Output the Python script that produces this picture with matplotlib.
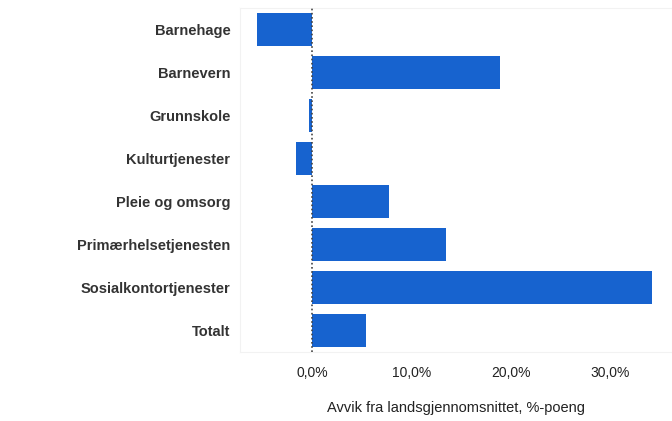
import matplotlib
matplotlib.use('Agg')
import matplotlib.pyplot as plt
from matplotlib.ticker import FuncFormatter

# data (deviation from national average, %-points)
categories = ['Barnehage', 'Barnevern', 'Grunnskole', 'Kulturtjenester',
              'Pleie og omsorg', 'Primærhelsetjenesten', 'Sosialkontortjenester', 'Totalt']
values = [-5.5, 18.9, -0.35, -1.6, 7.8, 13.5, 34.2, 5.4]
xticks = [0, 10, 20, 30]

plt.rcParams['font.family'] = ['Liberation Sans', 'DejaVu Sans']

fig = plt.figure(figsize=(6.72, 4.21), dpi=100)
ax = fig.add_axes([240 / 672, 1 - 352 / 421, 1 - 240 / 672, 344 / 421])

pos = list(range(len(categories)))
ax.barh(pos, values, height=0.75, color='#1763cf', zorder=2)
ax.axvline(0, color='#444444', linestyle=(0, (1, 1.5)), linewidth=1.2, zorder=3)

ax.set_ylim(len(categories) - 0.5, -0.5)
ax.set_xlim(-7.25, 36.25)
ax.set_yticks(pos)
ax.set_yticklabels(categories, fontsize=10.5, fontweight='bold', color='#333333')
ax.set_xticks(xticks)
ax.xaxis.set_major_formatter(FuncFormatter(lambda v, p: f'{v:.1f}%'.replace('.', ',')))
ax.tick_params(axis='x', labelsize=10, colors='#222222', length=0, pad=10)
ax.tick_params(axis='y', length=0, pad=7)
ax.set_xlabel('Avvik fra landsgjennomsnittet, %-poeng', fontsize=10.5, color='#222222', labelpad=15)

for s in ax.spines.values():
    s.set_color('#f2f2f2')
    s.set_linewidth(0.8)

fig.savefig('out.png', dpi=100)
